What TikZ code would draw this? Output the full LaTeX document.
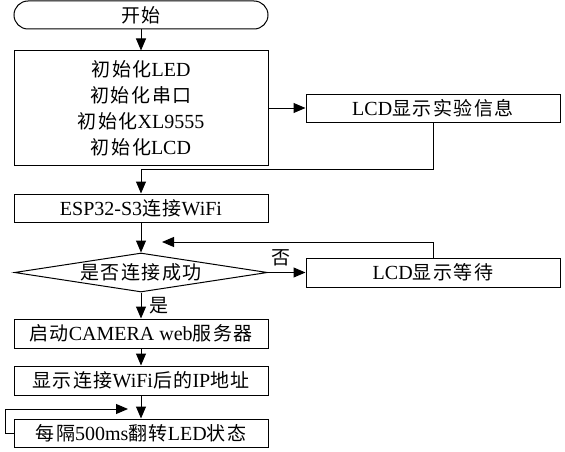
\documentclass[tikz,border=0pt]{standalone}
\usepackage{fontspec}
\setmainfont{Liberation Serif}
\newfontfamily\cjkf{Noto Sans CJK SC}[LetterSpace=8,Scale=0.95]
\newcommand\zhc[1]{{\cjkf #1}}
\usetikzlibrary{arrows.meta,shapes.geometric}
\begin{document}
\begin{tikzpicture}[x=1pt,y=-1pt,
  font=\fontsize{20}{26}\selectfont,
  line width=1pt,
  box/.style={draw, minimum width=254pt, minimum height=28pt, inner sep=0pt, align=center},
  arr/.style={-{Triangle[length=12pt,width=10pt]}}]
\useasboundingbox (0,0) rectangle (565,452);
% nodes
\node[box, rounded corners=14pt] (start) at (141,15) {\zhc{开始}};
\node[box, minimum height=114pt] (init) at (141,108)
  {\zhc{初始化}LED\\\zhc{初始化串口}\\\zhc{初始化}XL9555\\\zhc{初始化}LCD};
\node[box] (lcd) at (433,108) {LCD\zhc{显示实验信息}};
\node[box] (esp) at (141,208) {ESP32-S3\zhc{连接}WiFi};
\node[diamond, draw, minimum width=253pt, minimum height=39pt, inner sep=0pt] (dec) at (141,272.5) {};
\node (dectext) at (dec.center) {\zhc{是否连接成功}};
\node[box, minimum height=29pt] (wait) at (433,272.5) {LCD\zhc{显示等待}};
\node[box, minimum height=29pt] (cam) at (141,333.5) {\zhc{启动}CAMERA web\zhc{服务器}};
\node[box, minimum height=29pt] (ip) at (141,380.5) {\zhc{显示连接}WiFi\zhc{后的}IP\zhc{地址}};
\node[box] (led) at (141,433) {\zhc{每隔}500ms\zhc{翻转}LED\zhc{状态}};
\node (no) at (281,258) {\zhc{否}};
\node (yes) at (159,306) {\zhc{是}};
% coordinates
\coordinate (j1) at (141,169);
\coordinate (fbend) at (162,242);
\coordinate (lp) at (5,409);
\coordinate (loopend) at (128,409);
% connectors
\draw[arr] (start) -- (init);
\draw[arr] (init.east) -- (lcd.west);
\draw[arr] (lcd.south) |- (j1) -- (esp.north);
\draw[arr] (esp) -- (dec);
\draw[arr] (dec.east) -- (wait.west);
\draw[arr] (wait.north) |- (fbend);
\draw[arr] (dec.south) -- (cam.north);
\draw[arr] (cam) -- (ip);
\draw[arr] (ip) -- (led);
\draw[arr] (led.west) -| (lp) -- (loopend);
\end{tikzpicture}
\end{document}
